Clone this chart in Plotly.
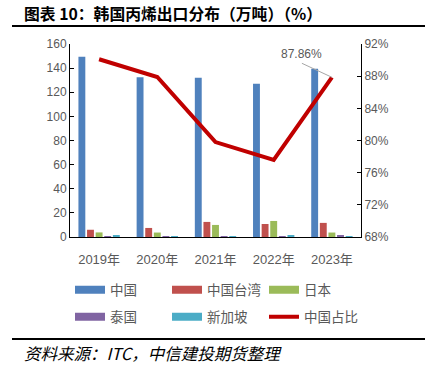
import plotly.graph_objects as go

years = ["2019年", "2020年", "2021年", "2022年", "2023年"]
china = [149.5, 132.5, 132.0, 127.0, 139.5]
taiwan = [6.0, 7.5, 12.5, 10.8, 11.7]
japan = [3.8, 3.7, 10.0, 13.3, 3.7]
thailand = [0.5, 0.3, 0.5, 0.3, 1.6]
singapore = [1.5, 0.3, 0.1, 1.5, 0.3]
china_share = [90.1, 87.9, 79.8, 77.6, 87.86]

colors = {"中国": "#4F81BD", "中国台湾": "#C0504D", "日本": "#9BBB59",
          "泰国": "#8064A2", "新加坡": "#4BACC6"}

L, T, PW, PH = 70, 44, 291, 193


def px_x(x):
    return (x - L) / PW


def px_y(y):
    return 1 - (y - T) / PH


fig = go.Figure()
series = [("中国", china), ("中国台湾", taiwan), ("日本", japan),
          ("泰国", thailand), ("新加坡", singapore)]
legend_ids = ["legend", "legend2", "legend3", "legend4", "legend5", "legend6"]
for name, vals in series:
    fig.add_trace(go.Bar(x=years, y=vals, name=name, marker_color=colors[name],
                         marker_line_width=0, showlegend=False))
for (name, vals), lg in zip(series, legend_ids):
    fig.add_trace(go.Scatter(x=[None], y=[None], name=name, mode="lines",
                             line=dict(color=colors[name], width=8), legend=lg))

fig.add_trace(go.Scatter(x=years, y=china_share, name="中国占比", mode="lines",
                         line=dict(color="#C00000", width=4), yaxis="y2", legend="legend6"))

fig.add_annotation(x=years[-1], y=china_share[-1], xref="x", yref="y2",
                   text=f"{china_share[-1]:.2f}%", showarrow=True, arrowhead=0,
                   arrowcolor="#A6A6A6", arrowwidth=1, ax=-30, ay=-14,
                   xanchor="center", yanchor="bottom", standoff=0,
                   font=dict(size=12, color="#595959", family="Liberation Sans"))

tickfont = dict(size=12, color="#595959", family="Liberation Sans, Noto Sans CJK SC")
xtickfont = dict(size=13, color="#595959", family="Liberation Sans, Noto Sans CJK SC")
legfont = dict(size=13.5, color="#595959", family="Noto Sans CJK SC")

leg_pos = [(75, 290), (172, 290), (269, 290), (75, 317), (172, 317), (269, 317)]
legends = {}
for lg, (sx, cy) in zip(legend_ids, leg_pos):
    legends[lg] = dict(orientation="h", x=px_x(sx - 5), y=px_y(cy), xanchor="left",
                       yanchor="middle", font=legfont, itemwidth=30,
                       bgcolor="rgba(0,0,0,0)", borderwidth=0)

fig.update_layout(
    width=425, height=369,
    margin=dict(l=L, r=425 - L - PW, t=T, b=369 - T - PH),
    paper_bgcolor="white", plot_bgcolor="white",
    barmode="group", bargap=0.26, bargroupgap=0.2,
    showlegend=True,
    xaxis=dict(showline=True, linecolor="black", linewidth=1, ticks="", tickfont=xtickfont,
               showgrid=False, mirror=False, ticklabelstandoff=10),
    yaxis=dict(range=[0, 160], dtick=20, showline=True, linecolor="black", linewidth=1,
               ticks="inside", ticklen=4, tickcolor="black", tickfont=tickfont, showgrid=False,
               zeroline=False),
    yaxis2=dict(range=[68, 92], dtick=4, overlaying="y", side="right", showline=True,
                linecolor="black", linewidth=1, ticks="inside", ticklen=4, tickcolor="black",
                ticksuffix="%", tickfont=tickfont, showgrid=False, zeroline=False),
    **legends,
)

fig.add_annotation(xref="paper", yref="paper", x=px_x(22), y=px_y(14),
                   xanchor="left", yanchor="middle", showarrow=False,
                   text="<b>图表 10：韩国丙烯出口分布（万吨）（%）</b>",
                   font=dict(size=15.8, color="black", family="Noto Sans CJK SC"))
fig.add_shape(type="line", xref="paper", yref="paper",
              x0=px_x(12), x1=px_x(425), y0=px_y(26), y1=px_y(26),
              line=dict(color="black", width=2))
fig.add_shape(type="line", xref="paper", yref="paper",
              x0=px_x(12), x1=px_x(425), y0=px_y(339), y1=px_y(339),
              line=dict(color="black", width=2))
fig.add_annotation(xref="paper", yref="paper", x=px_x(22), y=px_y(353),
                   xanchor="left", yanchor="middle", showarrow=False,
                   text="资料来源：ITC，中信建投期货整理",
                   font=dict(size=16.5, color="black", family="Noto Sans CJK SC", style="italic"))

fig.write_html("out.html", config={"displayModeBar": False},
               post_script="document.body.style.margin='0';document.body.style.overflow='hidden';")
